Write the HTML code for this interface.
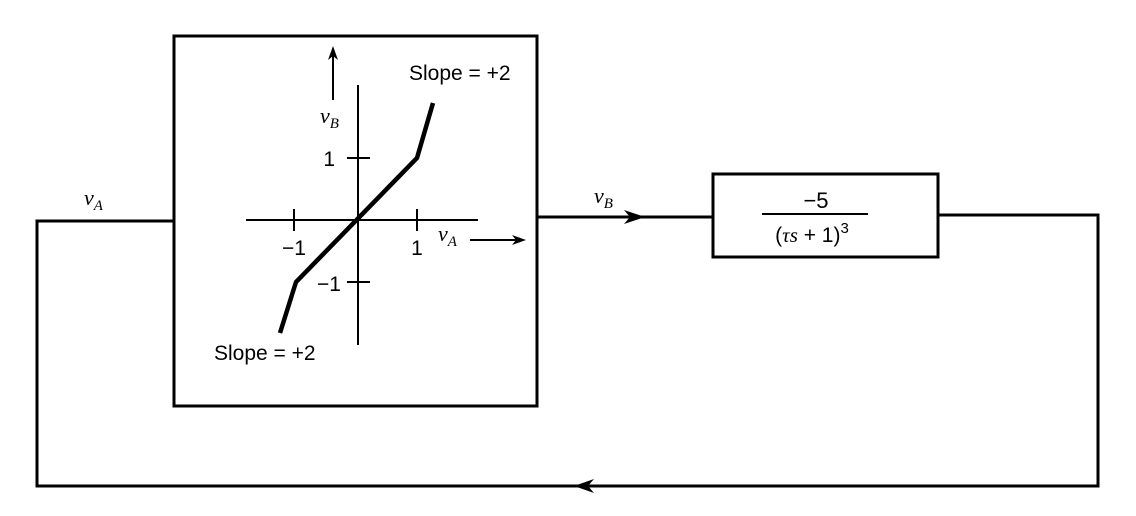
<!DOCTYPE html>
<html><head><meta charset="utf-8"><style>body{margin:0;background:#fff}</style></head>
<body>
<svg width="1136" height="516" xmlns="http://www.w3.org/2000/svg" style="display:block">
<g fill="none" stroke="#000" stroke-width="3">
<rect x="174" y="36" width="363" height="370"/>
<rect x="713" y="174" width="225" height="83"/>
<polyline points="174,221 37,221 37,486 1098,486 1098,215 938,215"/>
<line x1="537" y1="217" x2="713" y2="217"/>
</g>
<g stroke="#000" stroke-width="2" fill="none">
<line x1="358" y1="85" x2="358" y2="345"/>
<line x1="246" y1="220" x2="478" y2="220"/>
<line x1="294" y1="209" x2="294" y2="231"/>
<line x1="417" y1="209" x2="417" y2="231"/>
<line x1="347" y1="158" x2="370" y2="158"/>
<line x1="347" y1="282" x2="370" y2="282"/>
<line x1="333" y1="100" x2="333" y2="50"/>
<line x1="470" y1="240" x2="522" y2="240"/>
<line x1="762" y1="214" x2="868" y2="214"/>
</g>
<polyline points="280,333 296,282 417,158 433,103" fill="none" stroke="#000" stroke-width="4.5"/>
<g fill="#000">
<path d="M333,46 L328,60 L333,56 L338,60 Z"/>
<path d="M526,240 L512,235 L516,240 L512,245 Z"/>
<path d="M645,217 L624,210 L630,217 L624,224 Z"/>
<path d="M574,486 L594,479 L588,486 L594,493 Z"/>
</g>
<g font-family="Liberation Sans, sans-serif" font-size="21" fill="#000">
<text x="409" y="80">Slope = +2</text>
<text x="214" y="360">Slope = +2</text>
<text x="335" y="166" text-anchor="end">1</text>
<text x="341" y="291" text-anchor="end">−1</text>
<text x="294" y="255" text-anchor="middle">−1</text>
<text x="417" y="255" text-anchor="middle">1</text>
<text x="816" y="208" text-anchor="middle" font-size="22">−5</text>
<text x="812" y="242" text-anchor="middle" font-size="21">(<tspan font-family="Liberation Serif, serif" font-style="italic">τs</tspan> + 1)<tspan font-size="15" dy="-9">3</tspan></text>
</g>
<g font-family="Liberation Serif, serif" font-style="italic" font-size="22" fill="#000">
<text x="84" y="205">v<tspan font-size="15" dy="5">A</tspan></text>
<text x="594" y="203">v<tspan font-size="15" dy="5">B</tspan></text>
<text x="320" y="123">v<tspan font-size="15" dy="5">B</tspan></text>
<text x="438" y="241">v<tspan font-size="15" dy="5">A</tspan></text>
</g>
</svg>
</body></html>
